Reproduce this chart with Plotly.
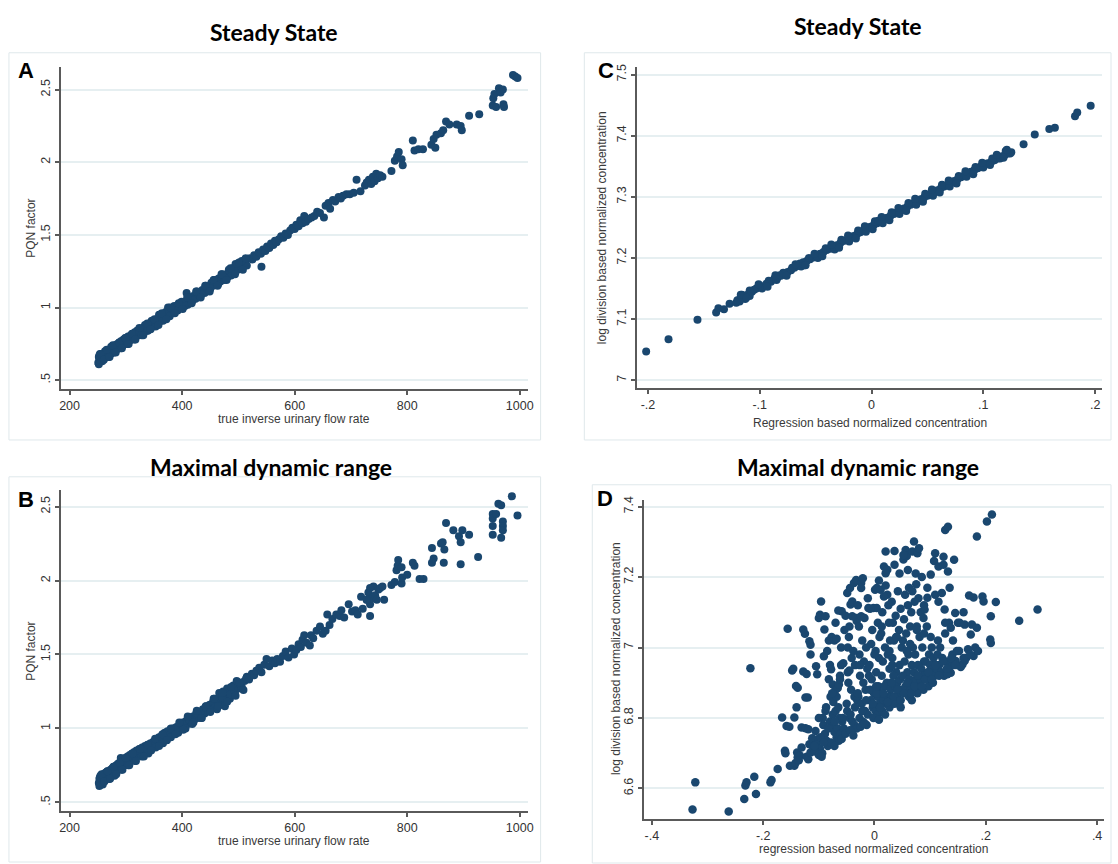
import plotly.graph_objects as go

NAVY = "#1a476f"
W, H = 1118, 864

# ---------------- data: panel A (Steady State, PQN factor) ----------------
a_x = [251, 252, 253, 254, 255, 256, 257, 258, 259, 260,
       261, 262, 264, 265, 267, 268, 270, 272, 273, 275,
       276, 278, 280, 281, 283, 285, 287, 289, 290, 292,
       294, 296, 298, 300, 302, 304, 306, 308, 310, 312,
       314, 316, 318, 320, 322, 325, 327, 330, 332, 335,
       337, 340, 342, 345, 347, 350, 352, 355, 357, 360,
       362, 365, 368, 370, 373, 375, 377, 380, 383, 385,
       388, 390, 393, 395, 398, 400, 403, 406, 408, 410,
       413, 416, 420, 424, 428, 432, 436, 440, 444, 448,
       452, 455, 458, 462, 465, 468, 472, 475, 478, 481,
       484, 487, 490, 493, 496, 499, 502, 505, 510, 515,
       520, 525, 528, 532, 536, 540, 541, 544, 548, 551,
       555, 558, 562, 565, 568, 572, 576, 580, 584, 588,
       592, 596, 600, 603, 607, 610, 614, 617, 620, 625,
       630, 635, 640, 645, 652, 655, 660, 663, 668, 672,
       678, 682, 686, 692, 698, 705, 710, 717, 725, 728,
       732, 736, 739, 742, 745, 748, 752, 756, 772, 778,
       782, 785, 790, 792, 810, 813, 820, 828, 843, 847,
       850, 852, 860, 864, 869, 875, 888, 895, 897, 910,
       928, 952, 953, 955, 958, 963, 966, 970, 971, 972,
       988, 992, 996,
       253, 258, 263, 269, 274, 279, 284, 291, 297, 303,
       309, 315, 321, 328, 334, 339, 346, 353, 359, 366,
       371, 378, 386, 392, 399, 405, 412, 419, 426, 434,
       442, 450, 457, 464, 470, 477, 483, 489, 495, 506,
       252, 256, 261, 266, 271, 277, 282, 288, 293, 299,
       305, 311, 317, 324, 331, 338, 344, 351, 358, 364,
       372, 379, 387, 394, 401, 409, 417, 425, 433, 441,
       449, 456, 463, 471, 479, 486, 494, 501, 508, 513]
a_y = [0.62, 0.66, 0.64, 0.68, 0.63, 0.65, 0.67, 0.64, 0.66, 0.68,
       0.65, 0.67, 0.69, 0.66, 0.70, 0.67, 0.69, 0.71, 0.68, 0.72,
       0.69, 0.73, 0.70, 0.74, 0.71, 0.75, 0.72, 0.76, 0.73, 0.77,
       0.74, 0.78, 0.75, 0.79, 0.76, 0.80, 0.77, 0.80, 0.78, 0.81,
       0.79, 0.83, 0.80, 0.84, 0.81, 0.85, 0.82, 0.86, 0.83, 0.87,
       0.84, 0.88, 0.85, 0.90, 0.87, 0.91, 0.88, 0.92, 0.90, 0.93,
       0.91, 0.95, 0.92, 0.96, 0.94, 1.00, 0.96, 0.98, 0.97, 1.00,
       0.98, 1.01, 0.99, 1.02, 1.00, 1.03, 1.01, 1.04, 1.10, 1.02,
       1.06, 1.05, 1.08, 1.06, 1.09, 1.08, 1.12, 1.10, 1.14, 1.12,
       1.17, 1.15, 1.19, 1.16, 1.20, 1.18, 1.22, 1.19, 1.23, 1.21,
       1.25, 1.22, 1.27, 1.24, 1.29, 1.26, 1.30, 1.28, 1.31, 1.29,
       1.34, 1.33, 1.36, 1.35, 1.38, 1.37, 1.28, 1.40, 1.39, 1.42,
       1.41, 1.44, 1.43, 1.46, 1.45, 1.47, 1.49, 1.48, 1.51, 1.50,
       1.53, 1.55, 1.54, 1.57, 1.56, 1.60, 1.58, 1.63, 1.59, 1.61,
       1.62, 1.63, 1.66, 1.65, 1.62, 1.70, 1.72, 1.68, 1.74, 1.73,
       1.76, 1.75, 1.77, 1.78, 1.78, 1.79, 1.88, 1.80, 1.84, 1.86,
       1.88, 1.85, 1.90, 1.87, 1.92, 1.89, 1.91, 1.90, 1.94, 2.01,
       2.04, 2.07, 2.02, 1.98, 2.15, 2.08, 2.09, 2.09, 2.12, 2.16,
       2.10, 2.19, 2.20, 2.22, 2.28, 2.26, 2.26, 2.25, 2.22, 2.32,
       2.33, 2.39, 2.44, 2.47, 2.38, 2.51, 2.48, 2.50, 2.40, 2.38,
       2.60, 2.59, 2.58,
       0.67, 0.63, 0.70, 0.66, 0.73, 0.69, 0.74, 0.72, 0.78, 0.75,
       0.81, 0.78, 0.84, 0.81, 0.88, 0.84, 0.91, 0.87, 0.95, 0.91,
       0.97, 0.94, 1.01, 0.98, 1.04, 1.01, 1.07, 1.05, 1.11, 1.09,
       1.15, 1.13, 1.19, 1.16, 1.23, 1.20, 1.26, 1.23, 1.30, 1.32,
       0.61, 0.68, 0.64, 0.71, 0.66, 0.74, 0.69, 0.76, 0.72, 0.79,
       0.75, 0.82, 0.78, 0.86, 0.81, 0.89, 0.85, 0.92, 0.88, 0.96,
       0.92, 1.00, 0.96, 1.03, 0.99, 1.07, 1.03, 1.11, 1.07, 1.15,
       1.11, 1.19, 1.15, 1.23, 1.19, 1.27, 1.23, 1.31, 1.26, 1.34]

# ---------------- data: panel B (Maximal dynamic range, PQN factor) ----------------
b_x = [252, 253, 254, 255, 256, 257, 258, 259, 260, 261,
       262, 263, 265, 266, 268, 269, 271, 273, 274, 276,
       278, 279, 281, 283, 284, 286, 288, 290, 291, 293,
       295, 297, 299, 301, 303, 305, 307, 309, 311, 313,
       315, 317, 319, 321, 324, 326, 329, 331, 334, 336,
       339, 341, 344, 346, 349, 351, 354, 356, 359, 361,
       364, 367, 369, 372, 374, 377, 379, 382, 384, 387,
       390, 392, 395, 398, 401, 404, 407, 410, 413, 416,
       419, 422, 425, 428, 431, 434, 437, 440, 443, 446,
       449, 452, 455, 458, 461, 464, 467, 470, 473, 476,
       479, 482, 485, 488, 491, 494, 497, 500, 503, 506,
       511, 515, 519, 524, 528, 532, 537, 541, 546, 550,
       555, 560, 565, 569, 574, 579, 584, 589, 595, 599,
       603, 607, 611, 614, 617, 621, 627, 629, 633, 639,
       645, 650, 655, 658, 662, 667, 674, 680, 683, 688,
       696, 702, 708, 712, 718, 721, 728, 731, 734, 734,
       737, 740, 743, 746, 749, 752, 756, 759, 734, 728,
       772, 778, 781, 783, 784, 790, 790, 791, 800, 810,
       813, 822, 829, 844, 844, 847, 860, 863, 865, 866,
       869, 882, 892, 895, 895, 898, 910, 926, 952, 952,
       952, 952, 958, 962, 967, 970, 970, 970, 967, 986, 996,
       254, 259, 264, 270, 275, 280, 286, 292, 298, 304,
       310, 316, 322, 328, 334, 340, 347, 353, 360, 366,
       373, 380, 386, 393, 400, 406, 413, 420, 427, 435,
       442, 450, 456, 462, 466, 471, 476, 480, 486, 492,
       253, 257, 262, 267, 272, 278, 283, 289, 294, 300,
       306, 312, 318, 325, 332, 339, 345, 352, 359, 365,
       373, 380, 388, 395, 402, 410, 418, 426, 434, 442,
       450, 457, 464, 472, 480, 487, 495, 502, 509, 514]
b_y = [0.63, 0.66, 0.64, 0.68, 0.62, 0.65, 0.67, 0.64, 0.69, 0.66,
       0.68, 0.65, 0.70, 0.67, 0.71, 0.68, 0.66, 0.72, 0.69, 0.73,
       0.70, 0.74, 0.71, 0.75, 0.72, 0.76, 0.73, 0.77, 0.80, 0.75,
       0.78, 0.76, 0.80, 0.77, 0.81, 0.78, 0.82, 0.79, 0.83, 0.80,
       0.84, 0.81, 0.85, 0.82, 0.86, 0.83, 0.87, 0.84, 0.88, 0.85,
       0.89, 0.86, 0.90, 0.87, 0.91, 0.88, 0.92, 0.90, 0.94, 0.91,
       0.95, 0.92, 0.97, 0.94, 0.98, 0.95, 0.99, 0.96, 1.00, 0.98,
       1.01, 0.98, 1.02, 1.00, 1.04, 1.01, 1.05, 1.03, 1.07, 1.04,
       1.08, 1.06, 1.10, 1.07, 1.11, 1.09, 1.13, 1.10, 1.15, 1.12,
       1.16, 1.13, 1.18, 1.14, 1.20, 1.17, 1.22, 1.16, 1.25, 1.19,
       1.21, 1.26, 1.20, 1.23, 1.29, 1.25, 1.32, 1.27, 1.30, 1.28,
       1.32, 1.35, 1.33, 1.37, 1.36, 1.39, 1.41, 1.38, 1.43, 1.47,
       1.42, 1.46, 1.44, 1.47, 1.45, 1.49, 1.52, 1.48, 1.54, 1.50,
       1.53, 1.57, 1.55, 1.60, 1.63, 1.58, 1.56, 1.63, 1.61, 1.66,
       1.69, 1.64, 1.66, 1.77, 1.70, 1.74, 1.77, 1.76, 1.80, 1.75,
       1.84, 1.79, 1.80, 1.77, 1.89, 1.81, 1.87, 1.92, 1.84, 1.76,
       1.88, 1.96, 1.90, 1.87, 1.94, 1.95, 1.96, 1.87, 1.95, 1.87,
       1.97, 1.99, 2.07, 2.10, 2.14, 2.09, 1.98, 2.02, 2.04, 2.12,
       2.10, 2.01, 2.01, 2.22, 2.12, 2.15, 2.25, 2.26, 2.12, 2.21,
       2.39, 2.34, 2.30, 2.26, 2.11, 2.34, 2.31, 2.16, 2.45, 2.42,
       2.37, 2.31, 2.45, 2.52, 2.51, 2.40, 2.37, 2.34, 2.29, 2.57, 2.44,
       0.67, 0.62, 0.70, 0.66, 0.72, 0.68, 0.75, 0.72, 0.78, 0.75,
       0.81, 0.78, 0.85, 0.81, 0.86, 0.83, 0.90, 0.87, 0.93, 0.90,
       0.97, 0.94, 1.00, 0.97, 1.03, 1.00, 1.06, 1.04, 1.10, 1.07,
       1.14, 1.12, 1.20, 1.13, 1.24, 1.21, 1.15, 1.27, 1.23, 1.26,
       0.61, 0.69, 0.64, 0.71, 0.66, 0.74, 0.69, 0.77, 0.72, 0.80,
       0.75, 0.83, 0.78, 0.86, 0.81, 0.89, 0.85, 0.93, 0.88, 0.96,
       0.92, 1.00, 0.96, 1.04, 0.99, 1.08, 1.03, 1.12, 1.07, 1.15,
       1.11, 1.20, 1.15, 1.24, 1.18, 1.28, 1.22, 1.31, 1.26, 1.34]

# ---------------- data: panel C (Steady State, concentrations) ----------------
c_x = [-0.2016, -0.1816, -0.1557, -0.139, -0.137, -0.132, -0.127, -0.118, -0.116,
       -0.120, -0.115, -0.111, -0.107, -0.103, -0.100, -0.097, -0.094, -0.090, -0.087,
       -0.084, -0.081, -0.078, -0.075, -0.072, -0.069, -0.066, -0.064, -0.061, -0.058,
       -0.055, -0.052, -0.049, -0.046, -0.043, -0.040, -0.037, -0.034, -0.031, -0.028,
       -0.025, -0.022, -0.019, -0.016, -0.013, -0.010, -0.007, -0.004, -0.001, 0.002,
       0.005, 0.008, 0.011, 0.014, 0.017, 0.020, 0.023, 0.026, 0.029, 0.032,
       0.035, 0.038, 0.041, 0.044, 0.047, 0.050, 0.053, 0.056, 0.059, 0.062,
       0.065, 0.068, 0.071, 0.074, 0.077, 0.080, 0.083, 0.086, 0.089, 0.092,
       0.095, 0.098, 0.101, 0.104, 0.107, 0.110, 0.113, 0.116, 0.119, 0.122,
       0.125, 0.136, 0.146, 0.159, 0.164, 0.182, 0.184, 0.196,
       -0.113, -0.105, -0.098, -0.092, -0.085, -0.079, -0.071, -0.063, -0.056, -0.048,
       -0.041, -0.033, -0.027, -0.020, -0.012, -0.005, 0.003, 0.010, 0.018, 0.025,
       0.033, 0.040, 0.048, 0.055, 0.063, 0.070, 0.078, 0.085, 0.093, 0.100,
       0.108, 0.115, 0.120, 0.124, -0.118, -0.109, -0.082, -0.060, 0.006, 0.045,
       -0.117, -0.109, -0.101, -0.093, -0.086, -0.076, -0.068, -0.059, -0.051, -0.044,
       -0.036, -0.029, -0.021, -0.014, -0.006, 0.001, 0.009, 0.016, 0.024, 0.031,
       0.039, 0.046, 0.054, 0.061, 0.069, 0.076, 0.084, 0.091, 0.099, 0.106,
       0.112, 0.118, 0.121, -0.121, -0.112]
c_y = [7.047, 7.067, 7.099, 7.111, 7.118, 7.116, 7.125, 7.132, 7.140,
       7.131, 7.137, 7.140, 7.145, 7.150, 7.153, 7.154, 7.158, 7.161, 7.166,
       7.168, 7.171, 7.175, 7.177, 7.180, 7.184, 7.187, 7.191, 7.193, 7.195,
       7.198, 7.201, 7.204, 7.207, 7.210, 7.213, 7.215, 7.219, 7.221, 7.224,
       7.228, 7.230, 7.233, 7.236, 7.239, 7.242, 7.245, 7.248, 7.251, 7.254,
       7.257, 7.260, 7.263, 7.266, 7.269, 7.272, 7.275, 7.278, 7.281, 7.284,
       7.287, 7.290, 7.293, 7.296, 7.299, 7.302, 7.305, 7.308, 7.311, 7.314,
       7.317, 7.320, 7.323, 7.326, 7.329, 7.332, 7.335, 7.338, 7.341, 7.344,
       7.347, 7.350, 7.352, 7.355, 7.357, 7.360, 7.363, 7.366, 7.368, 7.371,
       7.373, 7.386, 7.402, 7.411, 7.413, 7.432, 7.438, 7.449,
       7.133, 7.148, 7.150, 7.163, 7.164, 7.176, 7.184, 7.186, 7.200, 7.200,
       7.216, 7.214, 7.230, 7.227, 7.245, 7.243, 7.260, 7.257, 7.275, 7.272,
       7.290, 7.287, 7.305, 7.302, 7.320, 7.317, 7.334, 7.333, 7.349, 7.348,
       7.363, 7.363, 7.375, 7.371, 7.129, 7.147, 7.172, 7.188, 7.261, 7.294,
       7.140, 7.138, 7.157, 7.153, 7.172, 7.171, 7.190, 7.188, 7.207, 7.203,
       7.222, 7.217, 7.237, 7.232, 7.252, 7.247, 7.267, 7.262, 7.282, 7.277,
       7.297, 7.292, 7.312, 7.307, 7.327, 7.322, 7.342, 7.337, 7.356, 7.352,
       7.369, 7.364, 7.377, 7.127, 7.135]

# ---------------- data: panel D (Maximal dynamic range, concentrations) ----------------
d_x = [-0.327, -0.322, -0.262, -0.234, -0.230, -0.232, -0.223, -0.216, -0.213, -0.187, -0.185, -0.174,
       -0.166, -0.161, -0.160, -0.158, -0.156, -0.153, -0.152, -0.148, -0.146, -0.144, -0.144, -0.141, -0.138, -0.142, -0.139, -0.138, -0.134, -0.136,
       -0.131, -0.128, -0.125, -0.117, -0.115, -0.131, -0.124, -0.119, -0.128, -0.122, -0.124, -0.120, -0.119, -0.122, -0.117, -0.115, -0.112, -0.110,
       -0.106, -0.105, -0.103, -0.100, -0.096, -0.098, -0.088, -0.101, -0.104, -0.098, -0.107, -0.100, -0.094, -0.095, -0.091, -0.090, -0.092, -0.089, -0.086, -0.084, -0.093, -0.087,
       -0.082, -0.077, -0.072, -0.068, -0.080, -0.078, -0.082, -0.075, -0.070, -0.066, -0.079, -0.074, -0.068, -0.080, -0.076, -0.072, -0.068, -0.064, -0.078, -0.072,
       -0.066, -0.061, -0.059, -0.075, -0.070, -0.063, -0.058, -0.055, -0.052, -0.060, -0.056, -0.062, -0.064, -0.059, -0.052, -0.054, -0.060,
       -0.049, -0.044, -0.037, -0.033, -0.043, -0.040, -0.033, -0.032, -0.046, -0.048, -0.041, -0.035, -0.045,
       -0.047, -0.042, -0.036, -0.031, -0.049, -0.045, -0.040, -0.036, -0.032, -0.044, -0.038,
       -0.024, -0.024, -0.021, -0.024, -0.018, -0.028, -0.022, -0.015, -0.027, -0.019, -0.013, -0.026, -0.020,
       -0.016, -0.029, -0.023, -0.017, -0.012, -0.027, -0.021, -0.014, -0.025, -0.018,
       -0.011, -0.002, 0.004, 0.001, 0.004, -0.008, 0.006, -0.004, 0.009, -0.006, 0.002, 0.008, -0.009,
       0.003, -0.005, 0.007, -0.001, 0.005, -0.007, 0.009, -0.003, 0.002, 0.006, -0.002, 0.008,
       0.011, 0.020, 0.023, 0.017, 0.017, 0.023, 0.020, 0.014, 0.026, 0.012, 0.028, 0.019, 0.024,
       0.015, 0.027, 0.013, 0.022, 0.018, 0.029, 0.012, 0.025, 0.016, 0.021, 0.027, 0.014, 0.019,
       0.036, 0.042, 0.031, 0.047, 0.038, 0.033, 0.044, 0.040, 0.035, 0.049, 0.032, 0.045,
       0.039, 0.034, 0.046, 0.041, 0.037, 0.048, 0.043, 0.031, 0.044, 0.036, 0.047,
       0.056, 0.052, 0.058, 0.062, 0.068, 0.055, 0.060, 0.066, 0.053, 0.064, 0.057, 0.069,
       0.061, 0.054, 0.067, 0.059, 0.051, 0.063, 0.069, 0.056, 0.065, 0.058, 0.062, 0.067,
       0.071, 0.068, 0.077, 0.080, 0.074, 0.085, 0.079, 0.072, 0.083, 0.088, 0.076, 0.081,
       0.086, 0.073, 0.089, 0.078, 0.084, 0.071, 0.087, 0.075, 0.082, 0.079, 0.088, 0.077,
       0.109, 0.107, 0.115, 0.101, 0.109, 0.095, 0.090, 0.094, 0.103, 0.098, 0.106, 0.092, 0.100, 0.104, 0.096, 0.108, 0.093, 0.101, 0.097, 0.105,
       0.124, 0.124, 0.132, 0.127, 0.126, 0.134, 0.127, 0.118, 0.113, 0.122, 0.128, 0.116, 0.112, 0.120, 0.125,
       0.132, 0.143, 0.145, 0.150, 0.140, 0.146, 0.140, 0.134, 0.137, 0.131, 0.148,
       0.153, 0.162, 0.175, 0.181, 0.168, 0.178, 0.165, 0.162, 0.158, 0.178, 0.155, 0.172,
       0.211, 0.202, 0.184, 0.194, 0.196, 0.184, 0.173, 0.209, 0.208, 0.209, 0.218, 0.260, 0.293, 0.186,
       0.170, 0.121, 0.137, 0.052, -0.065, -0.040, 0.020, 0.036,
       -0.108, -0.097, -0.091, -0.083, -0.071, -0.065, -0.057, -0.050, -0.043, -0.035, -0.030, -0.022, -0.015, -0.008, -0.003, 0.004, 0.010, 0.016, 0.024, 0.030,
       0.035, 0.041, 0.047, 0.053, 0.059, 0.066, 0.072, 0.078, 0.085, 0.091, 0.097, 0.103, 0.110, 0.116, 0.123, 0.130, 0.138, 0.145, 0.152, 0.160,
       -0.100, -0.088, -0.076, -0.062, -0.048, -0.038, -0.026, -0.010, 0.000, 0.013, 0.027, 0.039, 0.051, 0.064, 0.076, 0.089, 0.101, 0.114, 0.127, 0.141,
       -0.070, -0.045, -0.030, -0.012, 0.008, 0.025, 0.045, 0.060, 0.075, 0.095, 0.115, 0.135, 0.160, -0.085, -0.115, -0.140, 0.003, 0.032, 0.058, 0.089]
d_y = [6.540, 6.617, 6.534, 6.570, 6.617, 6.608, 6.941, 6.633, 6.584, 6.617, 6.624, 6.655,
       6.801, 6.707, 6.700, 6.777, 7.053, 6.775, 6.664, 6.935, 6.940, 6.801, 6.664, 6.891, 6.886, 6.672, 6.702, 6.688, 6.693, 6.680,
       6.716, 7.051, 7.039, 7.018, 7.008, 6.773, 6.771, 6.768, 6.932, 6.925, 6.858, 6.858, 6.683, 6.690, 6.725, 6.702, 6.742, 6.715,
       6.763, 6.947, 6.924, 7.084, 7.131, 7.093, 7.089, 6.740, 6.725, 6.712, 6.705, 6.695, 6.700, 6.690, 6.975, 7.051, 6.780, 6.755, 6.735, 6.720, 6.800, 6.830,
       7.020, 7.030, 7.020, 7.025, 6.950, 6.938, 6.910, 6.895, 6.880, 6.885, 6.860, 6.845, 6.860, 6.790, 6.775, 6.760, 6.745, 6.735, 6.730, 6.720,
       6.770, 6.755, 6.740, 6.810, 6.820, 6.800, 6.790, 6.770, 6.755, 6.950, 6.955, 6.920, 6.895, 7.103, 7.090, 7.050, 7.000,
       7.155, 7.169, 7.183, 7.192, 7.122, 7.131, 7.084, 7.075, 7.030, 7.000, 6.970, 6.950, 6.935,
       6.900, 6.880, 6.860, 6.850, 6.820, 6.800, 6.790, 6.780, 6.770, 6.765, 6.750,
       7.183, 7.169, 7.197, 7.089, 7.084, 7.060, 7.020, 7.000, 6.980, 6.960, 6.940, 6.920, 6.900,
       6.880, 6.860, 6.840, 6.820, 6.810, 6.800, 6.790, 6.780, 6.775, 6.785,
       7.112, 7.112, 7.112, 7.164, 7.169, 7.110, 7.070, 7.050, 7.030, 7.010, 6.990, 6.970, 6.950,
       6.930, 6.910, 6.890, 6.870, 6.860, 6.850, 6.840, 6.830, 6.820, 6.810, 6.800, 6.795,
       7.164, 7.176, 7.150, 7.145, 7.230, 7.221, 7.211, 7.100, 7.070, 7.040, 7.020, 7.000, 6.980,
       6.960, 6.940, 6.920, 6.900, 6.890, 6.880, 6.870, 6.860, 6.850, 6.840, 6.830, 6.820, 6.810,
       7.274, 7.160, 7.130, 7.110, 7.090, 7.070, 7.050, 7.030, 7.020, 7.000, 6.970, 6.950,
       6.930, 6.920, 6.910, 6.900, 6.890, 6.880, 6.870, 6.860, 6.850, 6.840, 6.830,
       7.277, 7.250, 7.260, 7.170, 7.160, 7.150, 7.120, 7.100, 7.080, 7.060, 7.040, 7.000,
       6.980, 6.960, 6.950, 6.930, 6.920, 6.910, 6.900, 6.890, 6.880, 6.870, 6.860, 6.850,
       7.301, 7.273, 7.268, 7.282, 7.210, 7.200, 7.140, 7.130, 7.100, 7.084, 7.060, 7.030,
       7.000, 6.980, 6.960, 6.950, 6.940, 6.930, 6.920, 6.910, 6.900, 6.890, 6.880, 6.870,
       7.268, 7.246, 7.230, 7.207, 7.150, 7.141, 7.108, 7.060, 7.000, 6.980, 6.970, 6.960, 6.950, 6.940, 6.930, 6.920, 6.910, 6.900, 6.890, 6.900,
       7.258, 7.235, 7.216, 7.334, 7.108, 7.070, 7.070, 7.000, 6.980, 6.970, 6.960, 6.950, 6.940, 6.930, 6.920,
       7.343, 7.249, 7.098, 7.070, 6.980, 6.962, 6.952, 6.942, 6.928, 6.924, 6.990,
       7.070, 7.065, 7.065, 7.000, 6.995, 6.976, 6.971, 6.962, 6.952, 7.142, 6.945, 6.980,
       7.378, 7.358, 7.315, 7.145, 7.131, 7.056, 7.037, 7.089, 7.023, 7.013, 7.129, 7.076, 7.108, 6.990,
       7.148, 7.155, 7.056, 7.263, 7.105, 7.089, 7.273, 7.235,
       6.720, 6.745, 6.730, 6.770, 6.790, 6.830, 6.800, 6.840, 6.810, 6.830, 6.870, 6.820, 6.850, 6.880, 6.840, 6.870, 6.830, 6.870, 6.845, 6.900,
       6.860, 6.880, 6.850, 6.870, 6.900, 6.870, 6.890, 6.920, 6.890, 6.910, 6.930, 6.910, 6.950, 6.920, 6.960, 6.940, 6.970, 6.950, 6.990, 6.970,
       6.800, 6.820, 6.870, 6.910, 6.930, 6.990, 6.950, 6.920, 6.980, 7.060, 6.990, 7.030, 7.020, 7.010, 7.050, 7.040, 7.030, 7.020, 7.040, 7.020,
       7.070, 7.060, 7.120, 7.140, 7.190, 7.120, 7.210, 7.220, 7.180, 7.170, 7.130, 7.170, 7.100, 6.990, 6.980, 6.830, 6.890, 6.950, 6.990, 7.120]

# ---------------- ticks & texts ----------------
flow_ticks = [200, 400, 600, 800, 1000]
flow_text = ["200", "400", "600", "800", "1000"]
pqn_ticks = [0.5, 1, 1.5, 2, 2.5]
pqn_text = [".5", "1", "1.5", "2", "2.5"]
c_xticks = [-0.2, -0.1, 0, 0.1, 0.2]
c_xtext = ["-.2", "-.1", "0", ".1", ".2"]
c_yticks = [7, 7.1, 7.2, 7.3, 7.4, 7.5]
c_ytext = ["7", "7.1", "7.2", "7.3", "7.4", "7.5"]
d_xticks = [-0.4, -0.2, 0, 0.2, 0.4]
d_xtext = ["-.4", "-.2", "0", ".2", ".4"]
d_yticks = [6.6, 6.8, 7, 7.2, 7.4]
d_ytext = ["6.6", "6.8", "7", "7.2", "7.4"]

for xs, ys in [(a_x, a_y), (b_x, b_y), (c_x, c_y), (d_x, d_y)]:
    assert len(xs) == len(ys), (len(xs), len(ys))


def dx(x0, x1):
    return [x0 / W, x1 / W]


def dy(top, bottom):
    return [1 - bottom / H, 1 - top / H]


TICKFONT = dict(family="Liberation Sans, Arial, sans-serif", size=12.5, color="#333333")
AXLINE = "#5a5a5a"


def xax(domain, anchor, rng, vals, text):
    return dict(domain=domain, anchor=anchor, range=rng, tickmode="array",
                tickvals=vals, ticktext=text, showline=True, linecolor=AXLINE,
                linewidth=2, ticks="outside", ticklen=4, tickwidth=1.5,
                tickcolor=AXLINE, tickfont=TICKFONT, showgrid=False,
                zeroline=False, fixedrange=True)


def yax(domain, anchor, rng, vals, text):
    return dict(domain=domain, anchor=anchor, range=rng, tickmode="array",
                tickvals=vals, ticktext=text, showline=True, linecolor=AXLINE,
                linewidth=2, ticks="outside", ticklen=4, tickwidth=1.5,
                tickcolor=AXLINE, tickfont=TICKFONT, tickangle=-90,
                showgrid=True, gridcolor="#e6eff1", gridwidth=1.5,
                zeroline=False, fixedrange=True)


fig = go.Figure()
marker = dict(color=NAVY, size=8, line=dict(width=0))
fig.add_trace(go.Scatter(x=a_x, y=a_y, mode="markers", marker=marker, xaxis="x", yaxis="y", hoverinfo="skip"))
fig.add_trace(go.Scatter(x=c_x, y=c_y, mode="markers", marker=marker, xaxis="x2", yaxis="y2", hoverinfo="skip"))
fig.add_trace(go.Scatter(x=b_x, y=b_y, mode="markers", marker=marker, xaxis="x3", yaxis="y3", hoverinfo="skip"))
fig.add_trace(go.Scatter(x=d_x, y=d_y, mode="markers", marker=dict(color=NAVY, size=8.5, line=dict(width=0)),
                         xaxis="x4", yaxis="y4", hoverinfo="skip"))

layout = dict(
    width=W, height=H, margin=dict(l=0, r=0, t=0, b=0),
    paper_bgcolor="white", plot_bgcolor="white", showlegend=False,
    xaxis=xax(dx(60, 530), "y", [184.1, 1014.1], flow_ticks, flow_text),
    yaxis=yax(dy(63, 387), "x", [0.438, 2.6575], pqn_ticks, pqn_text),
    xaxis2=xax(dx(640, 1108), "y2", [-0.2098, 0.2062], c_xticks, c_xtext),
    yaxis2=yax(dy(63, 386), "x2", [6.987, 7.513], c_yticks, c_ytext),
    xaxis3=xax(dx(60, 530), "y3", [184.1, 1014.1], flow_ticks, flow_text),
    yaxis3=yax(dy(488, 811), "x3", [0.4394, 2.6145], pqn_ticks, pqn_text),
    xaxis4=xax(dx(647, 1110), "y4", [-0.4143, 0.4125], d_xticks, d_xtext),
    yaxis4=yax(dy(498, 819), "x4", [6.5124, 7.4198], d_yticks, d_ytext),
)
fig.update_layout(**layout)

# outer frames of the four graphs
BOX = "#dfe8eb"
for (x0, y0, x1, y1) in [(8, 49, 543, 438), (587, 49, 1117, 438),
                         (8, 475, 543, 862), (595, 483, 1117, 863)]:
    fig.add_shape(type="rect", xref="paper", yref="paper",
                  x0=x0 / W, x1=x1 / W, y0=1 - y1 / H, y1=1 - y0 / H,
                  line=dict(color=BOX, width=1), fillcolor="rgba(0,0,0,0)", layer="below")


def ann(text, x, y, size, color="#000000", family="Liberation Sans, Arial", angle=0):
    fig.add_annotation(text=text, x=x / W, y=1 - y / H, xref="paper", yref="paper",
                       showarrow=False, xanchor="center", yanchor="middle",
                       textangle=angle, font=dict(size=size, color=color, family=family))


TITLEFONT = "Lato, Open Sans, sans-serif"
ann("<b>Steady State</b>", 275, 28, 23, family=TITLEFONT)
ann("<b>Steady State</b>", 862, 22, 23, family=TITLEFONT)
ann("<b>Maximal dynamic range</b>", 272, 465, 23, family=TITLEFONT)
ann("<b>Maximal dynamic range</b>", 862, 465, 23, family=TITLEFONT)

ann("<b>A</b>", 25, 67, 22)
ann("<b>C</b>", 609, 67, 22)
ann("<b>B</b>", 25, 498, 22)
ann("<b>D</b>", 608, 497, 22)

AX = "#3a3a3a"
ann("true inverse urinary flow rate", 295, 417, 12, color=AX)
ann("Regression based normalized concentration", 874, 421, 12, color=AX)
ann("true inverse urinary flow rate", 295, 841, 12, color=AX)
ann("regression based normalized concentration", 878, 849, 12, color=AX)
ann("PQN factor", 30, 225, 12, color=AX, angle=-90)
ann("PQN factor", 30, 650, 12, color=AX, angle=-90)
ann("log division based normalized concentration", 605, 225, 12, color=AX, angle=-90)
ann("log division based normalized concentration", 619, 658, 12, color=AX, angle=-90)

fig.write_html("out.html")
